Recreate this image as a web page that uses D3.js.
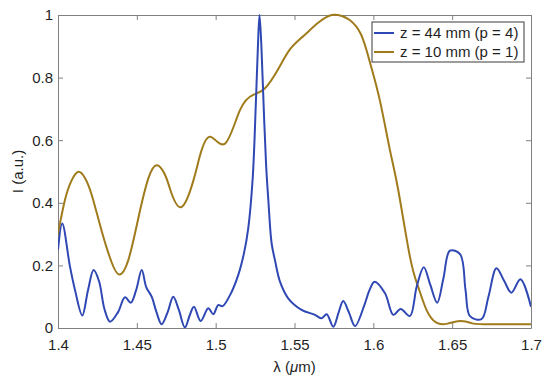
<!DOCTYPE html>
<html>
<head>
<meta charset="utf-8">
<script src="https://cdn.jsdelivr.net/npm/d3@7"></script>
<style>
  html, body { margin: 0; padding: 0; background: #fff; }
  svg { display: block; }
  text { font-family: "Liberation Sans", Arial, Helvetica, sans-serif; fill: #1f1f1f; }
</style>
</head>
<body>
<svg id="chart" width="550" height="385"></svg>
<script>
// ---- data ----
const seriesNames = ["z = 44 mm (p = 4)", "z = 10 mm (p = 1)"];
const seriesColors = ["#2f48b4", "#a07b1c"];

const lambda44 = [1.400,1.4027,1.4076,1.4108,1.4154,1.4190,1.4226,1.4260,1.4295,1.4330,1.4380,1.4425,1.4462,1.4495,1.4531,1.4560,1.4594,1.4625,1.4657,1.4695,1.4731,1.4765,1.4805,1.4835,1.4862,1.4905,1.4953,1.4985,1.5016,1.5044,1.5091,1.5143,1.5180,1.5207,1.5235,1.5255,1.5268,1.5278,1.5290,1.5305,1.5320,1.5334,1.5355,1.5376,1.5408,1.5460,1.5545,1.5630,1.5672,1.5704,1.5746,1.5780,1.5809,1.5845,1.5884,1.5947,1.5975,1.6008,1.6074,1.6127,1.6173,1.6232,1.6275,1.6320,1.6360,1.6405,1.6445,1.6486,1.6550,1.6585,1.6613,1.6686,1.6730,1.6781,1.6830,1.6876,1.6933,1.7000];
const intensity44 = [0.25,0.334,0.196,0.121,0.040,0.12,0.185,0.15,0.06,0.020,0.05,0.098,0.081,0.12,0.185,0.13,0.10,0.05,0.012,0.05,0.100,0.06,0.002,0.04,0.068,0.022,0.063,0.044,0.073,0.070,0.105,0.169,0.24,0.32,0.48,0.72,0.90,1.0,0.90,0.70,0.52,0.409,0.27,0.217,0.148,0.095,0.058,0.042,0.031,0.044,0.004,0.05,0.086,0.05,0.006,0.079,0.12,0.148,0.111,0.042,0.061,0.038,0.132,0.194,0.14,0.081,0.16,0.247,0.236,0.12,0.038,0.028,0.10,0.191,0.15,0.113,0.156,0.068];

const lambda10 = [1.400,1.4044,1.4085,1.4129,1.4170,1.4214,1.4277,1.4340,1.4389,1.4446,1.4509,1.4573,1.4630,1.4680,1.4710,1.4780,1.4858,1.4900,1.4964,1.5059,1.5154,1.5238,1.5313,1.5400,1.5471,1.5555,1.5650,1.5735,1.5800,1.5850,1.5920,1.5978,1.6041,1.6105,1.6158,1.6232,1.6284,1.6337,1.6400,1.6470,1.6550,1.6620,1.6700,1.7000];
const intensity10 = [0.302,0.409,0.47,0.499,0.48,0.425,0.31,0.21,0.171,0.217,0.350,0.478,0.520,0.488,0.445,0.386,0.470,0.55,0.611,0.589,0.696,0.745,0.766,0.83,0.89,0.932,0.975,1.0,0.997,0.984,0.94,0.85,0.728,0.569,0.441,0.228,0.132,0.058,0.017,0.014,0.022,0.016,0.012,0.012];

const xTicks = [1.4,1.45,1.5,1.55,1.6,1.65,1.7];
const xTickLabels = ["1.4","1.45","1.5","1.55","1.6","1.65","1.7"];
const yTicks = [0,0.2,0.4,0.6,0.8,1];
const yTickLabels = ["0","0.2","0.4","0.6","0.8","1"];

// ---- layout ----
const L = 58, R = 531, T = 15, B = 328;
const svg = d3.select("#chart");
const x = d3.scaleLinear().domain([1.4, 1.7]).range([L, R]);
const y = d3.scaleLinear().domain([0, 1]).range([B, T]);

svg.append("defs").append("clipPath").attr("id", "clip")
  .append("rect").attr("x", L).attr("y", T - 2).attr("width", R - L).attr("height", B - T + 2);

const axisColor = "#808080";
function styleAxis(g, hideText) {
  g.select(".domain").attr("stroke", axisColor).attr("stroke-width", 1);
  g.selectAll(".tick line").attr("stroke", axisColor);
  g.selectAll(".tick text").attr("font-size", 15).attr("fill", "#1f1f1f");
  if (hideText) g.selectAll(".tick text").remove();
}

// bottom
svg.append("g").attr("transform", `translate(0,${B})`)
  .call(d3.axisBottom(x).tickValues(xTicks).tickFormat((d, i) => xTickLabels[i]).tickSizeInner(-5).tickSizeOuter(0).tickPadding(11))
  .call(g => styleAxis(g, false));
// top
svg.append("g").attr("transform", `translate(0,${T})`)
  .call(d3.axisTop(x).tickValues(xTicks).tickSizeInner(-5).tickSizeOuter(0))
  .call(g => styleAxis(g, true));
// left
svg.append("g").attr("transform", `translate(${L},0)`)
  .call(d3.axisLeft(y).tickValues(yTicks).tickFormat((d, i) => yTickLabels[i]).tickSizeInner(-5).tickSizeOuter(0).tickPadding(5))
  .call(g => styleAxis(g, false));
// right
svg.append("g").attr("transform", `translate(${R},0)`)
  .call(d3.axisRight(y).tickValues(yTicks).tickSizeInner(-5).tickSizeOuter(0))
  .call(g => styleAxis(g, true));

// lines
const lineBlue = d3.line()
  .x(d => x(d[0])).y(d => y(d[1]))
  .curve(d3.curveCatmullRom.alpha(0.5));
const lineBrown = d3.line()
  .x(d => x(d[0])).y(d => y(d[1]))
  .curve(d3.curveNatural);

const series = [
  d3.zip(lambda44, intensity44),
  d3.zip(lambda10, intensity10)
];

const plot = svg.append("g").attr("clip-path", "url(#clip)");
plot.append("path").datum(series[1]).attr("d", lineBrown)
  .attr("fill", "none").attr("stroke", seriesColors[1]).attr("stroke-width", 2).attr("stroke-linejoin", "round");
plot.append("path").datum(series[0]).attr("d", lineBlue)
  .attr("fill", "none").attr("stroke", seriesColors[0]).attr("stroke-width", 2).attr("stroke-linejoin", "round");

// axis labels
svg.append("text").attr("x", (L + R) / 2).attr("y", 372).attr("text-anchor", "middle")
  .attr("font-size", 15)
  .call(t => {
    t.append("tspan").text("λ (");
    t.append("tspan").attr("font-style", "italic").text("μ");
    t.append("tspan").text("m)");
  });
svg.append("text").attr("transform", `translate(23,${(T + B) / 2}) rotate(-90)`)
  .attr("text-anchor", "middle").attr("font-size", 15).text("I (a.u.)");

// legend
const lg = svg.append("g");
lg.append("rect").attr("x", 372).attr("y", 22).attr("width", 152).attr("height", 40)
  .attr("fill", "#fff").attr("stroke", "#3a3a3a").attr("stroke-width", 1);
seriesNames.forEach((name, i) => {
  const cy = 33 + i * 19;
  lg.append("line").attr("x1", 374).attr("x2", 394).attr("y1", cy).attr("y2", cy)
    .attr("stroke", seriesColors[i]).attr("stroke-width", 2);
  lg.append("text").attr("x", 400).attr("y", cy).attr("dy", "0.35em").attr("font-size", 15).text(name);
});
</script>
</body>
</html>
